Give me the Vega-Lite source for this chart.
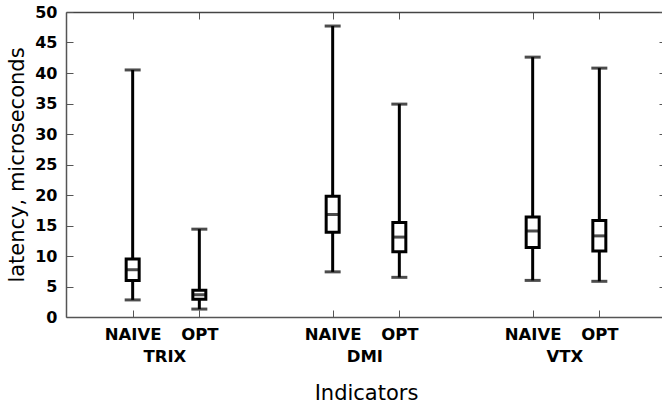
{
  "$schema": "https://vega.github.io/schema/vega-lite/v6.json",
  "autosize": {"type": "none"},
  "padding": {"left": 66, "top": 12, "right": 0, "bottom": 90},
  "width": 596,
  "height": 305,
  "config": {"view": {"stroke": null}, "font": "DejaVu Sans"},
  "data": {"values": [
    {"box": "TRIX NAIVE", "indicator": "TRIX", "impl": "NAIVE", "min": 2.8, "q1": 6.0, "median": 7.75, "q3": 9.5, "max": 40.5},
    {"box": "TRIX OPT", "indicator": "TRIX", "impl": "OPT", "min": 1.3, "q1": 2.9, "median": 3.65, "q3": 4.4, "max": 14.4},
    {"box": "DMI NAIVE", "indicator": "DMI", "impl": "NAIVE", "min": 7.4, "q1": 13.9, "median": 16.8, "q3": 19.8, "max": 47.7},
    {"box": "DMI OPT", "indicator": "DMI", "impl": "OPT", "min": 6.5, "q1": 10.7, "median": 13.1, "q3": 15.5, "max": 34.9},
    {"box": "VTX NAIVE", "indicator": "VTX", "impl": "NAIVE", "min": 6.0, "q1": 11.4, "median": 14.1, "q3": 16.4, "max": 42.6},
    {"box": "VTX OPT", "indicator": "VTX", "impl": "OPT", "min": 5.85, "q1": 10.8, "median": 13.3, "q3": 15.8, "max": 40.8}
  ]},
  "resolve": {"axis": {"x": "independent", "y": "independent"}},
  "layer": [
    {
      "mark": {"type": "rule", "color": "black", "strokeWidth": 3},
      "encoding": {
        "x": {"field": "box", "type": "nominal",
          "scale": {"type": "point", "domain": ["TRIX NAIVE", "TRIX OPT", "gap1", "DMI NAIVE", "DMI OPT", "gap2", "VTX NAIVE", "VTX OPT"], "range": [0, 600], "padding": 1},
          "axis": {"orient": "bottom", "values": ["TRIX NAIVE", "TRIX OPT", "DMI NAIVE", "DMI OPT", "VTX NAIVE", "VTX OPT"],
            "labelExpr": "split(datum.value, ' ')[1]", "labelAngle": 0, "labelFont": "DejaVu Sans", "labelFontWeight": "bold", "labelFontSize": 16.5, "labelColor": "black",
            "labelPadding": 16, "tickSize": -7, "tickColor": "#555", "tickWidth": 1, "domainColor": "#555", "domainWidth": 1.5, "title": null, "grid": false}},
        "y": {"field": "min", "type": "quantitative",
          "scale": {"domain": [0, 50], "nice": false, "zero": true},
          "axis": {"orient": "left", "values": [0, 5, 10, 15, 20, 25, 30, 35, 40, 45, 50], "labelFont": "DejaVu Sans", "labelFontWeight": "bold", "labelFontSize": 16, "labelColor": "black",
            "labelPadding": 16, "tickSize": -7, "tickColor": "#555", "tickWidth": 1, "domainColor": "#555", "domainWidth": 1.5, "grid": false,
            "title": "latency, microseconds", "titleFont": "DejaVu Sans", "titleFontWeight": "normal", "titleFontSize": 21, "titleColor": "black", "titlePadding": 7}},
        "y2": {"field": "max"}
      }
    },
    {
      "mark": {"type": "bar", "fill": "white", "stroke": "black", "strokeWidth": 3, "size": 13},
      "encoding": {
        "x": {"field": "box", "type": "nominal",
          "scale": {"type": "point", "domain": ["TRIX NAIVE", "TRIX OPT", "gap1", "DMI NAIVE", "DMI OPT", "gap2", "VTX NAIVE", "VTX OPT"], "range": [0, 600], "padding": 1},
          "axis": {"orient": "bottom", "values": ["TRIX OPT", "DMI OPT", "VTX OPT"], "labelExpr": "split(datum.value, ' ')[0]", "labelAngle": 0, "labelOffset": -35,
            "labelFont": "DejaVu Sans", "labelFontWeight": "bold", "labelFontSize": 16.5, "labelColor": "black", "labelPadding": 31,
            "ticks": false, "domain": false, "grid": false,
            "title": "Indicators", "titleFont": "DejaVu Sans", "titleFontWeight": "normal", "titleFontSize": 21, "titleColor": "black", "titlePadding": 18}},
        "y": {"field": "q1", "type": "quantitative", "scale": {"domain": [0, 50], "nice": false}, "axis": null},
        "y2": {"field": "q3"}
      }
    },
    {
      "mark": {"type": "tick", "color": "black", "thickness": 3, "size": 16},
      "encoding": {
        "x": {"field": "box", "type": "nominal",
          "scale": {"type": "point", "domain": ["TRIX NAIVE", "TRIX OPT", "gap1", "DMI NAIVE", "DMI OPT", "gap2", "VTX NAIVE", "VTX OPT"], "range": [0, 600], "padding": 1},
          "axis": {"orient": "top", "values": ["TRIX NAIVE", "TRIX OPT", "DMI NAIVE", "DMI OPT", "VTX NAIVE", "VTX OPT"], "labels": false,
            "tickSize": -7, "tickColor": "#555", "tickWidth": 1, "domainColor": "#444", "domainWidth": 1.5, "title": null, "grid": false}},
        "y": {"field": "min", "type": "quantitative", "scale": {"domain": [0, 50], "nice": false},
          "axis": {"orient": "right", "offset": 4, "values": [0, 5, 10, 15, 20, 25, 30, 35, 40, 45, 50], "labels": false,
            "tickSize": -7, "tickColor": "#555", "tickWidth": 1, "domainColor": "#444", "domainWidth": 1.5, "title": null, "grid": false}}
      }
    },
    {
      "mark": {"type": "tick", "color": "black", "thickness": 3, "size": 16},
      "encoding": {
        "x": {"field": "box", "type": "nominal",
          "scale": {"type": "point", "domain": ["TRIX NAIVE", "TRIX OPT", "gap1", "DMI NAIVE", "DMI OPT", "gap2", "VTX NAIVE", "VTX OPT"], "range": [0, 600], "padding": 1},
          "axis": null},
        "y": {"field": "max", "type": "quantitative", "scale": {"domain": [0, 50], "nice": false}, "axis": null}
      }
    },
    {
      "mark": {"type": "tick", "color": "black", "thickness": 3, "size": 13},
      "encoding": {
        "x": {"field": "box", "type": "nominal",
          "scale": {"type": "point", "domain": ["TRIX NAIVE", "TRIX OPT", "gap1", "DMI NAIVE", "DMI OPT", "gap2", "VTX NAIVE", "VTX OPT"], "range": [0, 600], "padding": 1},
          "axis": null},
        "y": {"field": "median", "type": "quantitative", "scale": {"domain": [0, 50], "nice": false}, "axis": null}
      }
    }
  ]
}
